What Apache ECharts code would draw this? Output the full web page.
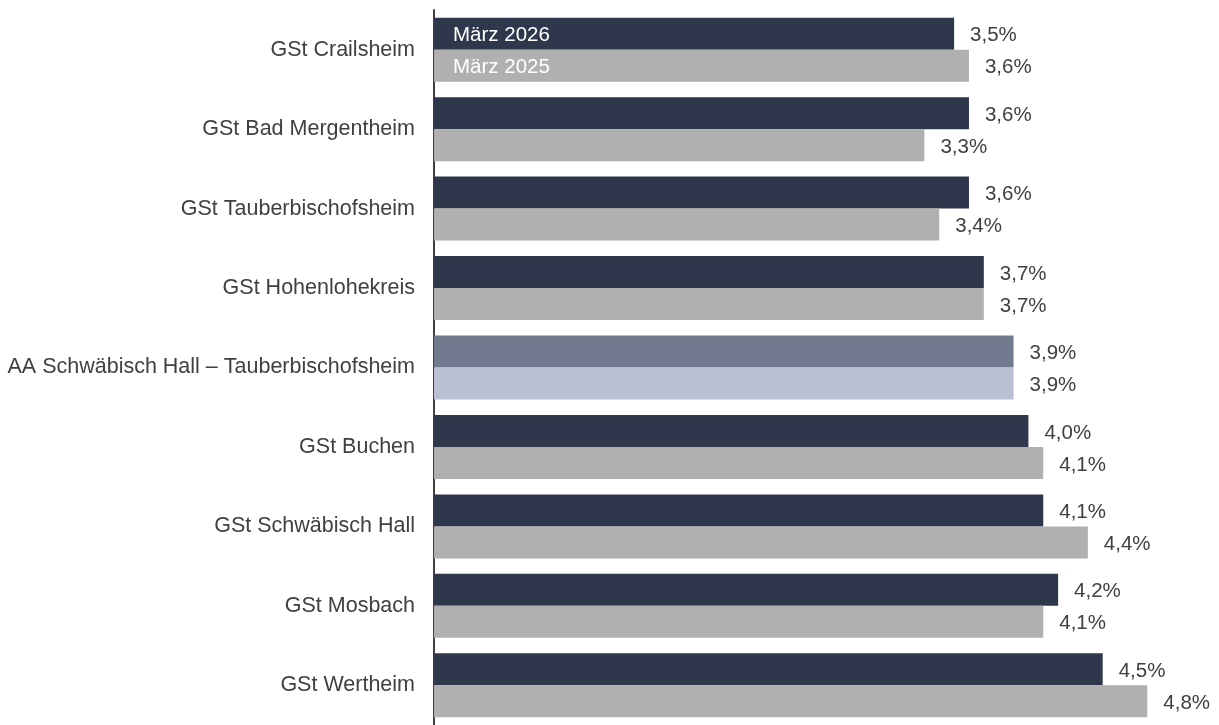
<!DOCTYPE html>
<html>
<head>
<meta charset="utf-8">
<script src="https://cdn.jsdelivr.net/npm/echarts@6/dist/echarts.min.js"></script>
<style>
  body { margin: 0; padding: 0; background: #fff; }
  #chart { width: 1219px; height: 725px; }
</style>
</head>
<body>
<div id="chart"></div>
<script>
// Daten
const categories = [
  "GSt Crailsheim",
  "GSt Bad Mergentheim",
  "GSt Tauberbischofsheim",
  "GSt Hohenlohekreis",
  "AA Schwäbisch Hall – Tauberbischofsheim",
  "GSt Buchen",
  "GSt Schwäbisch Hall",
  "GSt Mosbach",
  "GSt Wertheim"
];
const seriesNames = ["März 2026", "März 2025"];
const values2026 = [3.5, 3.6, 3.6, 3.7, 3.9, 4.0, 4.1, 4.2, 4.5];
const values2025 = [3.6, 3.3, 3.4, 3.7, 3.9, 4.1, 4.4, 4.1, 4.8];
const highlightIndex = 4;

const colors = ["#2f374d", "#b0b0b0"];
const highlightColors = ["#717a8e", "#b9c0d2"];
const font = "Liberation Sans, Arial, sans-serif";

function fmt(v) {
  return v.toFixed(1).replace(".", ",") + "%";
}

function buildData(values, s) {
  return values.map((v, i) => {
    if (i === highlightIndex) {
      return { value: v, itemStyle: { color: highlightColors[s] } };
    }
    return v;
  });
}

const valueLabel = {
  show: true,
  position: "right",
  distance: 16,
  offset: [0, 2],
  color: "#404040",
  fontSize: 20.5,
  fontFamily: font,
  formatter: p => fmt(p.value)
};

const chart = echarts.init(document.getElementById("chart"));
chart.setOption({
  animation: false,
  grid: { left: 434, right: 42, top: 10, height: 725 },
  legend: {
    orient: "vertical",
    left: 443,
    top: 14,
    itemGap: 0,
    itemWidth: 0,
    itemHeight: 0,
    selectedMode: false,
    textStyle: { color: "#ffffff", fontSize: 20.5, fontFamily: font, lineHeight: 32 },
    data: seriesNames
  },
  xAxis: {
    type: "value",
    min: 0,
    max: 5,
    show: false
  },
  yAxis: {
    type: "category",
    inverse: true,
    data: categories,
    axisLine: { show: true, lineStyle: { color: "#404040", width: 2 } },
    axisTick: { show: false },
    axisLabel: {
      margin: 19,
      color: "#404040",
      fontSize: 21.5,
      fontFamily: font
    }
  },
  series: [
    {
      name: seriesNames[0],
      type: "bar",
      barWidth: 32,
      barGap: "0%",
      itemStyle: { color: colors[0] },
      label: valueLabel,
      data: buildData(values2026, 0)
    },
    {
      name: seriesNames[1],
      type: "bar",
      barWidth: 32,
      barGap: "0%",
      itemStyle: { color: colors[1] },
      label: valueLabel,
      data: buildData(values2025, 1)
    }
  ]
});
</script>
</body>
</html>
